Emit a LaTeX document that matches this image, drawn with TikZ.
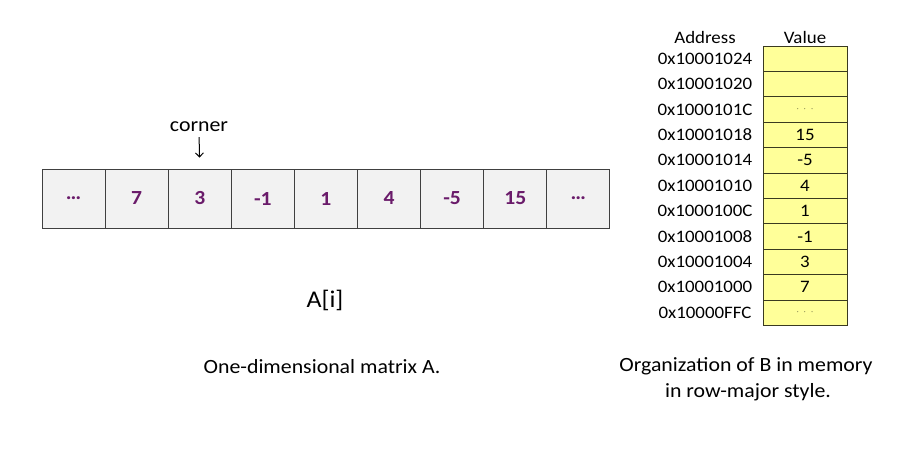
\documentclass[tikz,border=0pt]{standalone}
\usepackage{fontspec}
\setmainfont{Carlito}[FakeStretch=1.08]
\usetikzlibrary{arrows.meta}
\definecolor{cellgray}{HTML}{F2F2F2}
\definecolor{cellpurple}{HTML}{6A1B6A}
\definecolor{memyellow}{HTML}{FFFF99}
\definecolor{memborder}{HTML}{3A3A20}
\newcommand\memdots{{\fontsize{9}{10}\selectfont$\cdot\;\cdot\;\cdot$}}
\begin{document}
\begin{tikzpicture}[x=1pt,y=-1pt,
  arrcell/.style={draw=black!75, fill=cellgray, line width=0.9pt, minimum width=63.1pt, minimum height=59pt, inner sep=0pt, anchor=center, text=cellpurple, font=\fontsize{20}{22}\selectfont\bfseries},
  memcell/.style={draw=memborder, fill=memyellow, line width=0.9pt, minimum width=84pt, minimum height=25.4pt, inner sep=0pt, anchor=center, font=\fontsize{17.5}{19}\selectfont},
  addr/.style={font=\fontsize{17.5}{19}\selectfont, inner sep=0pt, anchor=center},
  lbl/.style={font=\fontsize{20.2}{22}\selectfont, inner sep=0pt, anchor=center}
]
\useasboundingbox (0,0) rectangle (910,448);
% one-dimensional array
\foreach \v [count=\i from 0] in {\ldots,7,3,-1,1,4,-5,15,\ldots} {
  \node[arrcell] (c\i) at ({42+63.1*(\i+0.5)},198.5) {\v};
}
\node[lbl] (corner) at (199,127) {corner};
\draw[-{Straight Barb[length=4pt,width=8pt]}, line width=1pt, shorten <=5pt, shorten >=11pt] (corner.south) -- (c2.north);
\node[font=\fontsize{24}{26}\selectfont, inner sep=0pt] (ai) at (325,300) {A[i]};
\node[lbl] (cap1) at (322,367) {One-dimensional matrix A.};
% memory table
\node[addr] (haddr) at (705,37) {Address};
\node[addr] (hval) at (805,37) {Value};
\foreach \a/\v [count=\i from 0] in {0x10001024/{},0x10001020/{},0x1000101C/\memdots,0x10001018/15,0x10001014/-5,0x10001010/4,0x1000100C/1,0x10001008/-1,0x10001004/3,0x10001000/7,0x10000FFC/\memdots} {
  \node[memcell] (v\i) at (805,{46+25.4*(\i+0.5)}) {\v};
  \node[addr] (a\i) at (705,{46+25.4*(\i+0.5)}) {\a};
}
\node[lbl] (cap2) at (746,366) {Organization of B in memory};
\node[lbl] (cap3) at (748,392) {in row-major style.};
\end{tikzpicture}
\end{document}
